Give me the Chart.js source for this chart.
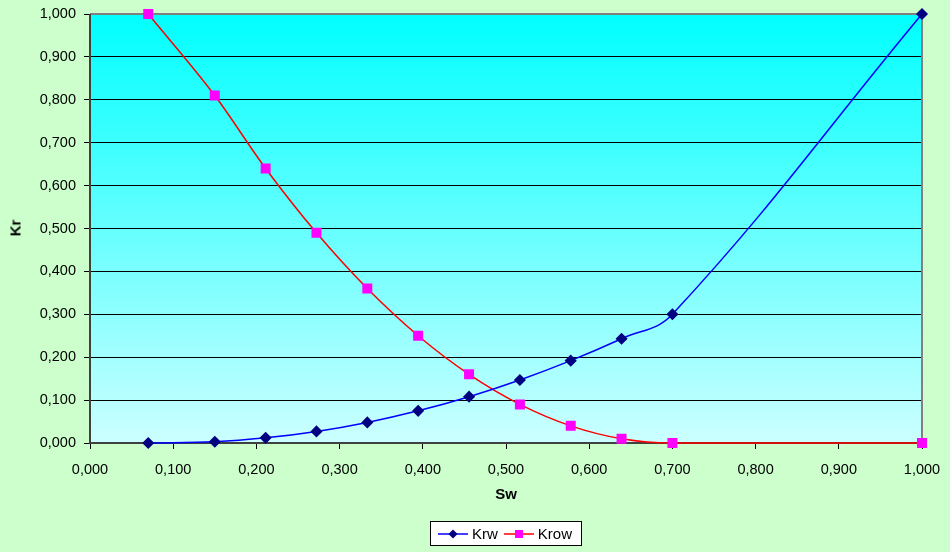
<!DOCTYPE html>
<html>
<head>
<meta charset="utf-8">
<script src="https://cdn.jsdelivr.net/npm/chart.js@4/dist/chart.umd.min.js"></script>
<style>
  body { margin: 0; background: #ccffcc; font-family: "Liberation Sans", Arial, sans-serif; }
  #wrap { position: relative; width: 950px; height: 552px; }
  #chart { position: absolute; left: 0; top: 0; }
  .axisTitle { position: absolute; font-weight: bold; font-size: 15px; color: #000; }
  #yTitle { left: 15px; top: 228px; transform: translate(-50%, -50%) rotate(-90deg); }
  #xTitle { left: 506px; top: 493px; transform: translate(-50%, -50%); }
  #legend { position: absolute; left: 430px; top: 521px; width: 150px; height: 23px; background: #fff;
            border: 1px solid #000; display: flex; align-items: center; justify-content: center;
            font-size: 15px; gap: 4px; }
  #legend span { margin-right: 2px; }
  #legend canvas { display: block; }
</style>
</head>
<body>
<div id="wrap">
  <canvas id="chart" width="950" height="552"></canvas>
  <div class="axisTitle" id="yTitle">Kr</div>
  <div class="axisTitle" id="xTitle">Sw</div>
  <div id="legend"></div>
</div>
<script>
// water saturation and relative permeabilities
const sw = [0.07, 0.15, 0.2111, 0.2722, 0.3333, 0.3944, 0.4556, 0.5167, 0.5778, 0.6389, 0.70, 1.0];
const krw = [0, 0.003, 0.012, 0.027, 0.048, 0.075, 0.108, 0.147, 0.192, 0.243, 0.300, 1.0];
const krow = [1.0, 0.81, 0.64, 0.49, 0.36, 0.25, 0.16, 0.09, 0.04, 0.01, 0, 0];
const seriesNames = ['Krw', 'Krow'];

const fmt = v => v.toFixed(3).replace('.', ',');
const tickFont = { family: '"Liberation Sans", Arial, sans-serif', size: 14.5 };

// gradient plot background + frame
const plotBg = {
    id: 'plotBg',
    beforeDraw(chart) {
        const { ctx, chartArea: a } = chart;
        const g = ctx.createLinearGradient(0, a.top, 0, a.bottom);
        g.addColorStop(0, '#00ffff');
        g.addColorStop(1, '#ccffff');
        ctx.save();
        ctx.fillStyle = g;
        ctx.fillRect(a.left, a.top, a.right - a.left, a.bottom - a.top);
        ctx.restore();
    },
    beforeDatasetsDraw(chart) {
        const { ctx, chartArea: a } = chart;
        ctx.save();
        ctx.strokeStyle = '#808080';
        ctx.lineWidth = 2;
        ctx.beginPath();
        ctx.moveTo(a.left, a.top);
        ctx.lineTo(a.right, a.top);
        ctx.lineTo(a.right, a.bottom);
        ctx.stroke();
        ctx.strokeStyle = '#404040';
        ctx.beginPath();
        ctx.moveTo(a.left, a.top);
        ctx.lineTo(a.left, a.bottom);
        ctx.lineTo(a.right, a.bottom);
        ctx.stroke();
        ctx.restore();
    }
};

const chart = new Chart(document.getElementById('chart').getContext('2d'), {
    type: 'line',
    data: {
        datasets: [{
            label: seriesNames[0],
            data: sw.map((x, i) => ({ x: x, y: krw[i] })),
            borderColor: '#0000ff',
            borderWidth: 1.5,
            pointStyle: 'rectRot',
            pointRadius: 5,
            pointBackgroundColor: '#000080',
            pointBorderColor: '#000080',
            tension: 0.4,
            clip: 8,
            fill: false
        }, {
            label: seriesNames[1],
            data: sw.map((x, i) => ({ x: x, y: krow[i] })),
            borderColor: '#ff0000',
            borderWidth: 1.5,
            pointStyle: 'rect',
            pointRadius: 6,
            pointBackgroundColor: '#ff00ff',
            pointBorderColor: '#ff00ff',
            cubicInterpolationMode: 'monotone',
            clip: 8,
            fill: false
        }]
    },
    options: {
        responsive: false,
        animation: false,
        layout: { padding: { top: 14, right: 28, left: 0, bottom: 0 } },
        plugins: { legend: { display: false }, tooltip: { enabled: false } },
        scales: {
            x: {
                type: 'linear', min: 0, max: 1,
                ticks: { stepSize: 0.1, callback: v => fmt(v), color: '#000', font: tickFont, padding: 12, maxRotation: 0 },
                grid: { drawOnChartArea: false, color: '#000', tickLength: 6 },
                border: { display: false },
                afterFit(s) { s.height = 109; s.paddingLeft = 0; s.paddingRight = 0; }
            },
            y: {
                min: 0, max: 1,
                ticks: { stepSize: 0.1, callback: v => fmt(v), color: '#000', font: tickFont, padding: 8 },
                grid: { color: '#000', tickLength: 6 },
                border: { display: false },
                afterFit(s) { s.width = 90; s.paddingTop = 0; s.paddingBottom = 0; }
            }
        }
    },
    plugins: [plotBg]
});

// legend with line + marker icons
const legend = document.getElementById('legend');
chart.data.datasets.forEach(ds => {
    const c = document.createElement('canvas');
    c.width = 30; c.height = 12;
    const cx = c.getContext('2d');
    cx.strokeStyle = ds.borderColor;
    cx.lineWidth = 1.5;
    cx.beginPath(); cx.moveTo(0, 6); cx.lineTo(30, 6); cx.stroke();
    cx.fillStyle = ds.pointBackgroundColor;
    if (ds.pointStyle === 'rect') {
        cx.fillRect(11, 2, 8, 8);
    } else {
        cx.beginPath(); cx.moveTo(15, 1.5); cx.lineTo(19.5, 6); cx.lineTo(15, 10.5); cx.lineTo(10.5, 6); cx.closePath(); cx.fill();
    }
    legend.appendChild(c);
    const t = document.createElement('span');
    t.textContent = ds.label;
    legend.appendChild(t);
});
</script>
</body>
</html>
